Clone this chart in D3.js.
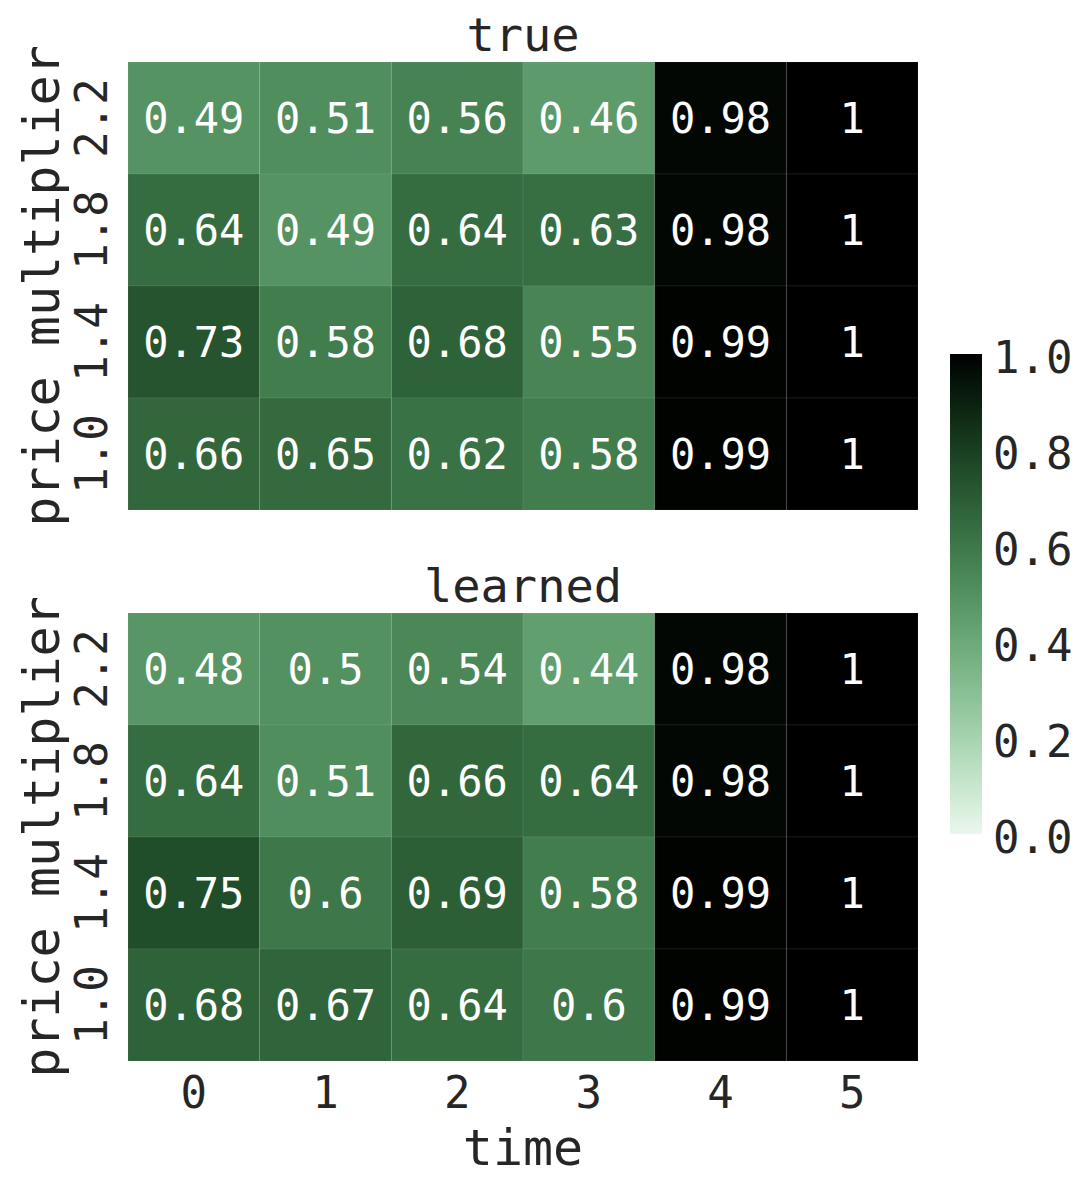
<!DOCTYPE html>
<html><head><meta charset="utf-8">
<script src="https://cdn.jsdelivr.net/npm/d3@7"></script>
<style>body{margin:0;background:#fff}svg{display:block}text{font-family:"DejaVu Sans Mono",monospace;fill:#262626}</style>
</head><body>
<script>
const times = ["0","1","2","3","4","5"];
const priceLabels = ["2.2","1.8","1.4","1.0"];
const panelTitles = ["true","learned"];
const trueValues = [
  [0.49,0.51,0.56,0.46,0.98,1],
  [0.64,0.49,0.64,0.63,0.98,1],
  [0.73,0.58,0.68,0.55,0.99,1],
  [0.66,0.65,0.62,0.58,0.99,1]
];
const learnedValues = [
  [0.48,0.5,0.54,0.44,0.98,1],
  [0.64,0.51,0.66,0.64,0.98,1],
  [0.75,0.6,0.69,0.58,0.99,1],
  [0.68,0.67,0.64,0.6,0.99,1]
];
const cbarTicks = [0,0.2,0.4,0.6,0.8,1.0];

// seaborn cubehelix_palette(start=2, rot=0, dark=0, light=.95)
function cubehelix(v){
  const light=0.95, dark=0, start=2, rot=0, hue=0.8;
  const x = light + (dark-light)*Math.max(0,Math.min(1,v));
  const a = hue*x*(1-x)/2, phi = 2*Math.PI*(start/3 + rot*x);
  const c=Math.cos(phi), s=Math.sin(phi);
  const cl=t=>Math.max(0,Math.min(1,t));
  const r=cl(x+a*(-0.14861*c+1.78277*s)), g=cl(x+a*(-0.29227*c-0.90649*s)), b=cl(x+a*(1.97294*c));
  return d3.rgb(r*255,g*255,b*255).formatHex();
}

const W=1084,H=1191;
const svg=d3.select("body").append("svg").attr("width",W).attr("height",H);
const x=d3.scaleBand().domain(times).range([128,918]);
const panels=[{vals:trueValues,top:62},{vals:learnedValues,top:613}];
panels.forEach((p,pi)=>{
  const y=d3.scaleBand().domain(priceLabels).range([p.top,p.top+448]);
  const g=svg.append("g");
  p.vals.forEach((row,ri)=>row.forEach((v,ci)=>{
    g.append("rect").attr("x",x(times[ci])).attr("y",y(priceLabels[ri]))
      .attr("width",x.bandwidth()).attr("height",y.bandwidth())
      .attr("fill",cubehelix(v)).attr("stroke","rgba(255,255,255,0.07)").attr("stroke-width",1);
    g.append("text").attr("x",x(times[ci])+x.bandwidth()/2).attr("y",y(priceLabels[ri])+y.bandwidth()/2)
      .attr("text-anchor","middle").attr("dominant-baseline","central")
      .style("fill","#ffffff").style("font-size","42px").text(String(v));
  }));
  priceLabels.forEach(l=>{
    const cy=y(l)+y.bandwidth()/2;
    svg.append("text").attr("transform",`translate(107,${cy}) rotate(-90)`)
      .attr("text-anchor","middle").style("font-size","44px").text(l);
  });
  svg.append("text").attr("transform",`translate(59,${p.top+224}) rotate(-90)`)
    .attr("text-anchor","middle").style("font-size","50px").text("price multiplier");
  svg.append("text").attr("x",523).attr("y",p.top-11).attr("text-anchor","middle")
    .style("font-size","47px").text(panelTitles[pi]);
});
times.forEach(t=>{
  svg.append("text").attr("x",x(t)+x.bandwidth()/2).attr("y",1108).attr("text-anchor","middle")
    .style("font-size","44px").text(t);
});
svg.append("text").attr("x",523).attr("y",1165).attr("text-anchor","middle").style("font-size","50px").text("time");

const cy=d3.scaleLinear().domain([0,1]).range([834,354]);
const defs=svg.append("defs");
const grad=defs.append("linearGradient").attr("id","cb").attr("x1",0).attr("y1",1).attr("x2",0).attr("y2",0);
d3.range(0,1.0001,0.02).forEach(v=>grad.append("stop").attr("offset",v).attr("stop-color",cubehelix(v)));
svg.append("rect").attr("x",950).attr("y",cy(1)).attr("width",32).attr("height",cy(0)-cy(1)).attr("fill","url(#cb)");
cbarTicks.forEach(t=>{
  svg.append("text").attr("x",993).attr("y",cy(t)+3).attr("dominant-baseline","central")
    .style("font-size","44px").text(t.toFixed(1));
});
</script>
</body></html>
